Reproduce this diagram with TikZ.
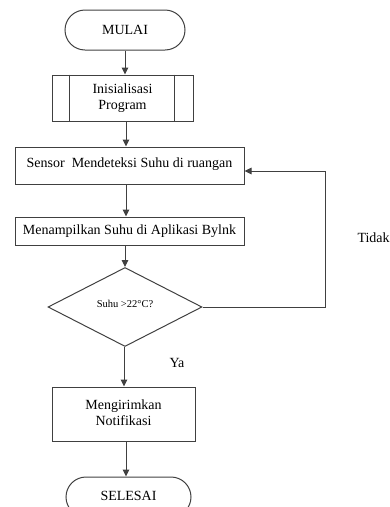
\documentclass[tikz,border=0pt]{standalone}
\usepackage{fontspec}
\setmainfont{Liberation Serif}
\usetikzlibrary{shapes.geometric,arrows.meta}
\begin{document}
\begin{tikzpicture}[x=1pt,y=-1pt,
  line width=1pt, draw=black!75,
  every node/.style={font=\fontsize{14}{16}\selectfont, inner sep=0pt},
  term/.style={draw=black!75, rounded corners=20pt, minimum width=#1, minimum height=40pt},
  box/.style={draw=black!75, rectangle},
  dec/.style={draw=black!75, diamond, minimum width=154pt, minimum height=79pt, inner sep=0pt},
  arr/.style={draw=black!75, -{Triangle[length=7pt,width=6.5pt]}},
  lbl/.style={text=black}
]
\useasboundingbox (0,0) rectangle (390,507);
\clip (0,0) rectangle (390,507);

\node[term=120pt] (mulai) at (125,30) {MULAI};
\node[box, minimum width=141pt, minimum height=46pt, align=center] (init) at (122.5,98) {Inisialisasi\\Program};
\draw ([xshift=18pt]init.north west) -- ([xshift=18pt]init.south west);
\draw ([xshift=-19pt]init.north east) -- ([xshift=-19pt]init.south east);
\node[box, minimum width=229pt, minimum height=37pt] (sensor) at (129.5,165.5) {\raisebox{6pt}{Sensor\ \ Mendeteksi Suhu di ruangan}};
\node[box, minimum width=229pt, minimum height=28pt] (tampil) at (129.5,231) {\raisebox{3pt}{Menampilkan Suhu di Aplikasi Bylnk}};
\node[dec] (cek) at (125,307) {\raisebox{7pt}{\fontsize{10.5}{12}\selectfont Suhu >22°C?}};
\node[box, minimum width=143pt, minimum height=54pt, align=center] (notif) at (123.5,414) {\raisebox{4pt}{\begin{tabular}{@{}c@{}}Mengirimkan\\Notifikasi\end{tabular}}};
\node[term=125pt] (selesai) at (128.5,497) {\raisebox{2pt}{SELESAI}};

\node[lbl, anchor=west] (tidak) at (357,238) {Tidak};
\node[lbl] (ya) at (177,363) {Ya};

\coordinate (fbtop) at (325,171);

\draw[arr] (mulai.south) -- (mulai.south |- init.north);
\draw[arr] ([xshift=3.5pt]init.south) -- ([xshift=3.5pt]init.south |- sensor.north);
\draw[arr] ([xshift=-3.5pt]sensor.south) -- ([xshift=-3.5pt]sensor.south |- tampil.north);
\draw[arr] ([xshift=-4.5pt]tampil.south) -- (cek.north);
\draw[arr] ([xshift=-1pt]cek.south) -- ([xshift=-1pt]cek.south |- notif.north);
\draw[arr] ([xshift=2.5pt]notif.south) -- ([xshift=2.5pt]notif.south |- selesai.north);
\draw[arr] (cek.east) -| (fbtop) -- (sensor.east |- fbtop);
\end{tikzpicture}
\end{document}
